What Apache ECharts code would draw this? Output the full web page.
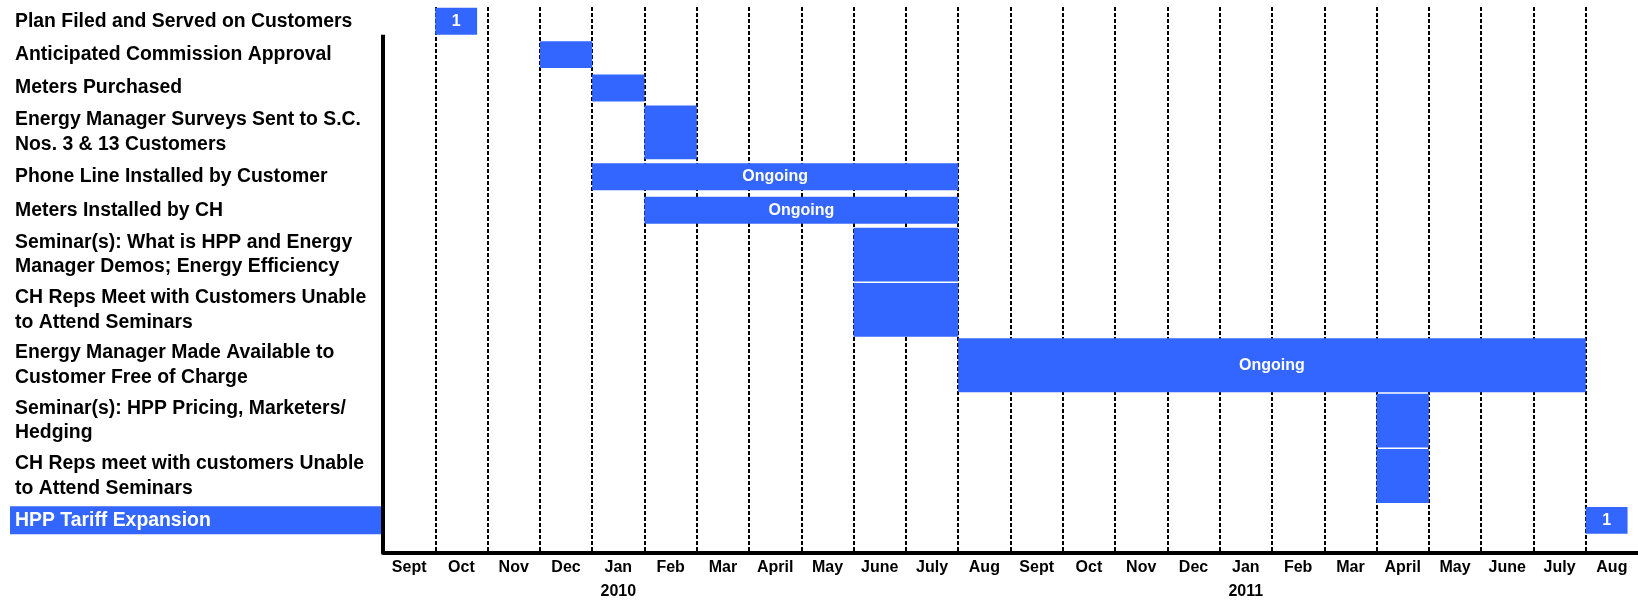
<!DOCTYPE html>
<html>
<head>
<meta charset="utf-8">
<script src="https://cdn.jsdelivr.net/npm/echarts@6/dist/echarts.min.js"></script>
<style>
  html, body { margin: 0; padding: 0; background: #fff; }
  #chart { width: 1638px; height: 602px; }
</style>
</head>
<body>
<div id="chart"></div>
<script>
// Project schedule: one row per task, months counted from Sept 2009 (= 0)
const tasks = [
  'Plan Filed and Served on Customers',
  'Anticipated Commission Approval',
  'Meters Purchased',
  'Energy Manager Surveys Sent to S.C.\nNos. 3 & 13 Customers',
  'Phone Line Installed by Customer',
  'Meters Installed by CH',
  'Seminar(s): What is HPP and Energy\nManager Demos; Energy Efficiency',
  'CH Reps Meet with Customers Unable\nto Attend Seminars',
  'Energy Manager Made Available to\nCustomer Free of Charge',
  'Seminar(s): HPP Pricing, Marketers/\nHedging',
  'CH Reps meet with customers Unable\nto Attend Seminars',
  'HPP Tariff Expansion'
];
const startMonth     = [1, 3, 4, 5, 4, 5, 9, 9, 11, 19, 19, 23];
const durationMonths = [0.8, 1, 1, 1, 7, 6, 2, 2, 12, 1, 1, 0.8];
const barText = ['1', '', '', '', 'Ongoing', 'Ongoing', '', '', 'Ongoing', '', '', '1'];
const highlightedTask = 'HPP Tariff Expansion';

const months = ['Sept', 'Oct', 'Nov', 'Dec', 'Jan', 'Feb', 'Mar', 'April', 'May', 'June', 'July', 'Aug',
                'Sept', 'Oct', 'Nov', 'Dec', 'Jan', 'Feb', 'Mar', 'April', 'May', 'June', 'July', 'Aug'];
const years = ['2010', '2011'];

// Year caption goes under each January
const yearOf = [];
let yi = 0;
months.forEach((m, i) => { yearOf[i] = m === 'Jan' ? years[yi++] : ''; });

// Row bands on the vertical scale: row pitch and bar height follow the number of label lines
const ROW_LINE = 22, ROW_PAD = 11.5;     // row pitch = lines * ROW_LINE + ROW_PAD
const BAR_LINE = 27, BAR_PAD = 0;        // bar height = lines * BAR_LINE + BAR_PAD
const Y_START = 2.5, TAIL = 16;          // plot area starts a little into the first row
const rows = [];
let acc = 0;
tasks.forEach(t => {
  const n = t.split('\n').length;
  const pitch = n * ROW_LINE + ROW_PAD;
  const c = acc + pitch / 2;
  const h = n * BAR_LINE + BAR_PAD;
  rows.push({ center: c, top: c - h / 2, bottom: c + h / 2 });
  acc += pitch;
});
const yMax = acc + TAIL;
const centers = rows.map(r => r.center);

const FONT = '"Liberation Sans", Arial, sans-serif';
const BAR = '#3366FF';

const barData = tasks.map((t, i) => [startMonth[i], startMonth[i] + durationMonths[i], rows[i].top, rows[i].bottom, i]);

function renderBar(params, api) {
  const p0 = api.coord([api.value(0), api.value(2)]);
  const p1 = api.coord([api.value(1), api.value(3)]);
  const i = api.value(4);
  return {
    type: 'rect',
    shape: { x: p0[0], y: p0[1], width: p1[0] - p0[0], height: p1[1] - p0[1] },
    style: { fill: BAR },
    textContent: {
      style: { text: barText[i], fill: '#fff', font: 'bold 16px ' + FONT }
    },
    textConfig: { position: 'inside' }
  };
}

function taskLabel(v) {
  let k = 0;
  centers.forEach((c, i) => { if (Math.abs(c - v) < Math.abs(centers[k] - v)) k = i; });
  const t = tasks[k];
  const key = t === highlightedTask ? 'h' : 'n';
  return t.split('\n').map(s => '{' + key + '|' + s + '}').join('\n');
}

const chart = echarts.init(document.getElementById('chart'), null, { renderer: 'canvas' });
chart.setOption({
  animation: false,
  backgroundColor: '#fff',
  grid: { left: 383, right: 0, top: 7, bottom: 49, containLabel: false, outerBoundsMode: 'none' },
  xAxis: [
    {
      type: 'value', position: 'bottom', min: 0, max: months.length, interval: 1,
      axisLine: { show: true, onZero: false, lineStyle: { color: '#000', width: 4 } },
      axisTick: { show: false },
      axisLabel: { show: false },
      splitLine: {
        show: true, showMinLine: false, showMaxLine: false,
        lineStyle: { color: '#000', width: 2, type: [4, 2] }
      }
    },
    {
      type: 'category', position: 'bottom', boundaryGap: true,
      data: months.map((m, i) => String(i)),
      axisLine: { show: false, onZero: false }, axisTick: { show: false }, splitLine: { show: false },
      axisLabel: {
        interval: 0, margin: 3, lineHeight: 24,
        fontFamily: FONT, fontSize: 16, fontWeight: 'bold', color: '#000',
        formatter: v => {
          const i = +v;
          return yearOf[i] ? months[i] + '\n' + yearOf[i] : months[i];
        }
      }
    }
  ],
  yAxis: {
    type: 'value', inverse: true, min: Y_START, max: yMax,
    axisLine: { show: false }, axisTick: { show: false }, splitLine: { show: false },
    axisLabel: {
      customValues: centers,
      margin: 373, align: 'left', verticalAlign: 'middle',
      fontFamily: FONT, fontSize: 19.4, fontWeight: 'bold', color: '#000',
      formatter: taskLabel,
      rich: {
        n: { fontFamily: FONT, fontSize: 19.4, fontWeight: 'bold', color: '#000', lineHeight: 24.5, padding: [0, 0, 0, 5] },
        h: { fontFamily: FONT, fontSize: 19.4, fontWeight: 'bold', color: '#fff', backgroundColor: BAR,
             lineHeight: 28, height: 28, width: 366, padding: [0, 0, 0, 5] }
      }
    }
  },
  series: [
    {
      type: 'custom',
      renderItem: renderBar,
      encode: { x: [0, 1], y: [2, 3] },
      data: barData,
      clip: false
    },
    {
      // left frame line, starting below the first row's bar
      type: 'line',
      data: [[0, rows[0].bottom], [0, yMax]],
      symbol: 'none',
      clip: false,
      silent: true,
      lineStyle: { color: '#000', width: 4 },
      z: 5
    }
  ]
});
</script>
</body>
</html>
